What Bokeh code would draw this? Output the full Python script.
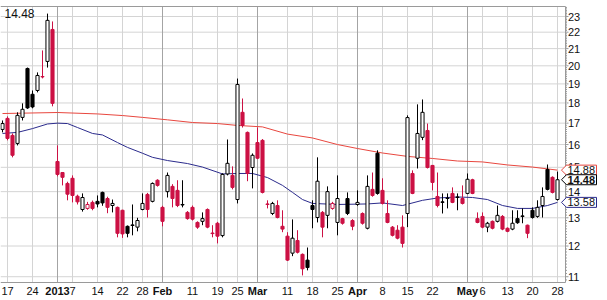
import math
import pandas as pd
from bokeh.plotting import figure
from bokeh.models import ColumnDataSource, Range1d
from bokeh.core.properties import value
from bokeh.embed import file_html
from bokeh.resources import INLINE

# ---------------- data ----------------
HOLIDAYS = ["2012-12-25", "2013-01-01", "2013-01-21", "2013-02-18", "2013-03-29", "2013-05-27"]
DATES = [d.strftime("%Y-%m-%d") for d in pd.bdate_range("2012-12-14", "2013-05-28")
         if d.strftime("%Y-%m-%d") not in HOLIDAYS]

OPEN = [16.70, 17.23, 16.42, 16.05, 17.28, 19.85, 18.45, 18.65, 19.40, 20.25, 22.17,
        15.25, 14.78, 14.33, 14.54, 13.82, 13.31, 13.35, 13.58, 13.62, 13.97, 13.73, 13.46, 13.39,
        13.28, 12.69, 12.74, 12.66, 13.31, 13.89, 13.62, 14.46,
        13.39, 14.00, 14.21, 14.05, 13.50, 13.20, 13.39, 12.83, 12.87, 13.31, 12.45, 12.80, 12.36,
        14.72, 14.66, 13.69, 17.53, 16.56, 14.99,
        16.09, 16.19, 13.52, 13.16, 13.46, 12.69, 12.34, 11.76, 12.19, 11.72, 11.53, 13.46, 13.01,
        13.20, 13.09, 13.35, 12.83, 12.97, 13.73, 12.90,
        13.50, 13.16, 12.62, 14.09, 15.61, 14.05, 13.16, 12.66, 12.55, 12.66, 13.16, 14.74, 15.39,
        16.33, 16.65, 15.08, 13.81, 13.60, 13.75, 13.93, 13.79, 13.73,
        13.93, 14.48, 12.97, 13.05, 12.66, 12.87, 12.87, 13.05, 12.62, 12.59, 12.97, 13.07, 12.73,
        13.28, 13.05, 13.46, 14.91, 14.58, 13.69]
HIGH = [17.13, 17.33, 16.51, 17.53, 17.98, 19.90, 18.65, 19.63, 20.89, 23.19, 22.68,
        15.96, 14.80, 14.40, 14.66, 13.88, 13.93, 13.60, 13.65, 13.85, 14.00, 13.80, 13.69, 13.42,
        13.30, 12.72, 13.50, 13.00, 13.93, 13.95, 14.37, 14.50,
        13.45, 14.78, 14.30, 14.46, 14.46, 13.25, 13.46, 12.87, 13.20, 13.35, 12.73, 12.85, 14.75,
        16.23, 15.04, 19.29, 18.23, 16.60, 15.60,
        16.79, 16.25, 13.66, 13.60, 13.66, 13.28, 12.48, 12.94, 12.55, 11.75, 11.95, 13.66, 15.43,
        13.25, 14.21, 13.60, 14.66, 13.00, 13.97, 12.95,
        14.05, 13.20, 14.66, 14.78, 15.74, 14.54, 13.66, 12.70, 12.73, 13.09, 17.38, 14.87, 17.93,
        18.18, 16.98, 15.10, 14.78, 13.93, 13.93, 14.17, 13.93, 14.25,
        14.74, 14.52, 13.20, 13.20, 12.85, 12.90, 13.46, 13.10, 12.65, 13.28, 13.28, 13.35, 12.75,
        13.39, 13.66, 14.17, 15.12, 14.62, 14.82]
LOW = [16.56, 16.19, 15.43, 15.96, 17.13, 17.70, 17.73, 18.55, 19.30, 19.90, 17.83,
       14.62, 14.25, 13.66, 13.58, 13.50, 13.23, 13.30, 13.28, 13.39, 13.45, 13.17, 13.20, 12.30,
       12.28, 12.30, 12.37, 12.51, 13.28, 13.01, 13.58, 14.20,
       12.69, 13.77, 13.39, 13.40, 13.39, 12.93, 12.90, 12.60, 12.73, 12.62, 12.30, 12.09, 12.30,
       14.66, 14.09, 13.54, 16.79, 14.42, 14.13,
       15.35, 13.93, 13.35, 13.10, 12.98, 12.48, 11.50, 11.66, 11.75, 11.04, 11.20, 12.62, 12.83,
       12.30, 12.62, 13.30, 12.37, 12.75, 13.10, 12.55,
       13.45, 12.75, 12.58, 13.80, 13.88, 13.50, 12.80, 12.33, 12.23, 11.95, 12.66, 13.90, 14.95,
       16.20, 14.95, 14.05, 13.39, 13.16, 13.35, 13.55, 13.28, 13.50,
       13.90, 13.90, 12.80, 12.62, 12.48, 12.58, 12.83, 12.55, 12.48, 12.55, 12.78, 12.80, 12.27,
       12.97, 13.00, 13.01, 14.05, 13.93, 13.65]
CLOSE = [16.98, 16.28, 15.52, 17.38, 17.68, 17.75, 17.80, 19.46, 19.38, 22.75, 17.98,
         14.70, 14.58, 13.90, 13.85, 13.60, 13.77, 13.50, 13.35, 13.52, 13.56, 13.39, 13.54, 12.44,
         12.42, 12.44, 12.72, 12.90, 13.54, 13.31, 14.33, 14.25,
         12.87, 14.66, 13.73, 13.46, 13.48, 12.97, 12.95, 12.66, 12.97, 12.66, 12.43, 12.34, 14.70,
         15.17, 14.17, 18.97, 16.89, 14.74, 15.52,
         15.39, 13.97, 13.50, 13.54, 13.01, 12.59, 11.53, 12.27, 11.79, 11.25, 11.29, 13.31, 14.42,
         12.66, 14.00, 13.54, 13.73, 12.80, 13.16, 12.69,
         13.58, 12.80, 14.21, 13.85, 13.93, 13.54, 12.83, 12.37, 12.27, 12.09, 17.27, 13.93, 16.51,
         17.53, 14.99, 14.37, 13.46, 13.58, 13.73, 13.58, 13.77, 13.54,
         14.50, 13.93, 12.83, 12.66, 12.80, 12.62, 13.09, 12.59, 12.51, 12.80, 12.82, 13.05, 12.44,
         13.01, 13.39, 13.81, 14.09, 13.97, 14.48]

MA_RED_DATES = ["2012-12-14", "2013-01-02", "2013-01-14", "2013-01-22", "2013-01-28", "2013-02-04",
                "2013-02-11", "2013-02-19", "2013-02-25", "2013-03-04", "2013-03-11", "2013-03-18",
                "2013-03-25", "2013-04-01", "2013-04-08", "2013-04-15", "2013-04-22", "2013-04-29",
                "2013-05-06", "2013-05-13", "2013-05-20", "2013-05-28"]
MA_RED = [17.47, 17.52, 17.45, 17.37, 17.28, 17.16, 17.03, 16.98, 16.89, 16.82, 16.48, 16.30,
          16.00, 15.82, 15.62, 15.47, 15.38, 15.27, 15.23, 15.10, 15.01, 14.88]

MA_BLUE_DATES = ["2012-12-14", "2012-12-19", "2012-12-24", "2012-12-28", "2013-01-02", "2013-01-04",
                 "2013-01-08", "2013-01-11", "2013-01-15", "2013-01-18", "2013-01-23", "2013-01-28",
                 "2013-01-30", "2013-02-04", "2013-02-08", "2013-02-13", "2013-02-20", "2013-02-25",
                 "2013-02-28", "2013-03-05", "2013-03-08", "2013-03-12", "2013-03-14", "2013-03-18",
                 "2013-03-25", "2013-04-03", "2013-04-08", "2013-04-12", "2013-04-18", "2013-04-23",
                 "2013-04-29", "2013-05-02", "2013-05-07", "2013-05-10", "2013-05-15", "2013-05-20",
                 "2013-05-23", "2013-05-28"]
MA_BLUE = [16.51, 16.56, 16.74, 16.96, 17.00, 16.98, 16.79, 16.51, 16.44, 16.09, 15.87, 15.61,
           15.43, 15.29, 15.16, 15.01, 14.72, 14.74, 14.74, 14.57, 14.25, 13.97, 13.69, 13.54,
           13.50, 13.52, 13.56, 13.46, 13.66, 13.75, 13.79, 13.77, 13.69, 13.46, 13.35, 13.35,
           13.46, 13.58]

Y_TICKS = [11, 12, 13, 14, 15, 16, 17, 18, 19, 20, 21, 22, 23]
X_TICK_DATES = ["2012-12-17", "2012-12-24", "2013-01-07", "2013-01-14", "2013-01-22", "2013-01-28",
                "2013-02-11", "2013-02-19", "2013-02-25", "2013-03-11", "2013-03-18", "2013-03-25",
                "2013-04-08", "2013-04-15", "2013-04-22", "2013-05-06", "2013-05-13", "2013-05-20",
                "2013-05-28"]
X_TICK_LABELS = ["17", "24", "7", "14", "22", "28", "11", "19", "25", "11", "18", "25",
                 "8", "15", "22", "6", "13", "20", "28"]
MONTH_DATES = ["2013-01-02", "2013-02-01", "2013-03-01", "2013-04-01", "2013-05-01"]
MONTH_LABELS = ["2013", "Feb", "Mar", "Apr", "May"]

TITLE_TEXT = "14.48"
TAG_VALUES = [14.88, 13.58, 14.48]
TAG_TEXTS = ["14.88", "13.58", "14.48"]

# ---------------- layout helpers (pixel geometry of the price panel) ----------------
W, H = 607, 300
PANEL_R, PANEL_T, PANEL_B = 565, 6, 282
PX_PER_DAY, PX_DAY0 = 5.0, 2.0
PX_PER_LN, REF_V, REF_PY = 352.8, 23.0, 16.0
RED = "#cc1144"
GRID = "#d4d4d4"
GRID_DARK = "#a4a4a4"
FRAME = "#9a9a9a"
FONT = "Liberation Sans"


def x_at(px):
    return (px - PX_DAY0) / PX_PER_DAY


def y_at(py):
    return REF_V * math.exp(-(py - REF_PY) / PX_PER_LN)


def y_shift(v, dpx):
    return v * math.exp(-dpx / PX_PER_LN)


idx = list(range(len(DATES)))
pos = {d: i for i, d in enumerate(DATES)}

colors, fills, tops, bots = [], [], [], []
for i in idx:
    prev_c = CLOSE[i - 1] if i > 0 else OPEN[i]
    c = "black" if CLOSE[i] >= prev_c else RED
    colors.append(c)
    fills.append("white" if CLOSE[i] > OPEN[i] else c)
    tops.append(max(OPEN[i], CLOSE[i]))
    bots.append(min(OPEN[i], CLOSE[i]))

src = ColumnDataSource(dict(x=idx, high=HIGH, low=LOW, top=tops, bottom=bots,
                            color=colors, fill=fills))

p = figure(width=W, height=H, x_range=Range1d(x_at(0), x_at(W)),
           y_range=Range1d(y_at(H), y_at(0)), y_axis_type="log",
           x_axis_location=None, y_axis_location=None,
           output_backend="svg", toolbar_location=None,
           min_border_left=0, min_border_right=0, min_border_top=0, min_border_bottom=0)
p.background_fill_color = "white"
p.border_fill_color = "white"
p.outline_line_color = None
p.grid.visible = False

xl, xr = x_at(0), x_at(PANEL_R)
yt, yb = y_at(PANEL_T), y_at(PANEL_B)

week_idx = [pos[d] for d in X_TICK_DATES]
month_idx = [pos[d] for d in MONTH_DATES]

# grid lines
p.segment(x0=[xl] * len(Y_TICKS), x1=[xr] * len(Y_TICKS), y0=Y_TICKS, y1=Y_TICKS,
          line_color=GRID, line_width=1)
p.segment(x0=week_idx, x1=week_idx, y0=[yb] * len(week_idx), y1=[yt] * len(week_idx),
          line_color=GRID, line_width=1)
p.segment(x0=month_idx, x1=month_idx, y0=[yb] * len(month_idx), y1=[yt] * len(month_idx),
          line_color=GRID_DARK, line_width=1)

# panel frame
p.segment(x0=[xl, xr, xl], x1=[xr, xr, xr], y0=[yt, yt, yb], y1=[yt, yb, yb],
          line_color=FRAME, line_width=1)

# right axis ticks and labels
minor = [v / 10 for v in range(109, 237) if v % 10 != 0]
p.segment(x0=[xr] * len(minor), x1=[x_at(PANEL_R + 1.5)] * len(minor), y0=minor, y1=minor,
          line_color=FRAME, line_width=1)
p.segment(x0=[xr] * len(Y_TICKS), x1=[x_at(PANEL_R + 3)] * len(Y_TICKS), y0=Y_TICKS, y1=Y_TICKS,
          line_color=FRAME, line_width=1)
p.text(x=[x_at(PANEL_R + 2.5)] * len(Y_TICKS), y=Y_TICKS, text=[str(t) for t in Y_TICKS],
       text_font=value(FONT), text_font_size="11px", text_color="#111111",
       text_align="left", text_baseline="middle")

# bottom axis labels
p.text(x=week_idx, y=[y_at(290)] * len(week_idx), text=X_TICK_LABELS,
       text_font=value(FONT), text_font_size="11px", text_color="#111111",
       text_align="center", text_baseline="middle")
p.text(x=month_idx, y=[y_at(290)] * len(month_idx), text=MONTH_LABELS,
       text_font=value(FONT), text_font_size="11px", text_font_style="bold",
       text_color="#111111", text_align="center", text_baseline="middle")

# moving averages
p.line([pos[d] for d in MA_RED_DATES], MA_RED, line_color="#e8473f", line_width=1)
p.line([pos[d] for d in MA_BLUE_DATES], MA_BLUE, line_color="#2b2b8c", line_width=1)

# candles
p.segment(x0="x", y0="low", x1="x", y1="high", line_color="color", line_width=1, source=src)
p.vbar(x="x", width=0.62, top="top", bottom="bottom", fill_color="fill",
       line_color="color", line_width=1, source=src)

# title
p.text(x=[x_at(4)], y=[y_at(13)], text=[TITLE_TEXT], text_font=value(FONT),
       text_font_size="12px", text_color="#111111", text_align="left", text_baseline="middle")

# price tags on the right
tag_style = {14.88: ("#e8473f", "normal"), 13.58: ("#2b2b8c", "normal"), 14.48: ("black", "bold")}
for v, t in zip(TAG_VALUES, TAG_TEXTS):
    lc, fs = tag_style[v]
    xs = [x_at(561), x_at(566), x_at(596), x_at(596), x_at(566)]
    ys = [v, y_shift(v, -5), y_shift(v, -5), y_shift(v, 5), y_shift(v, 5)]
    p.patch(xs, ys, fill_color="white", line_color=lc, line_width=1)
    p.text(x=[x_at(567)], y=[v], text=[t], text_font=value(FONT), text_font_size="11px",
           text_font_style=fs, text_color="#111111", text_align="left", text_baseline="middle")

open("out.html", "w").write(file_html(p, INLINE))
